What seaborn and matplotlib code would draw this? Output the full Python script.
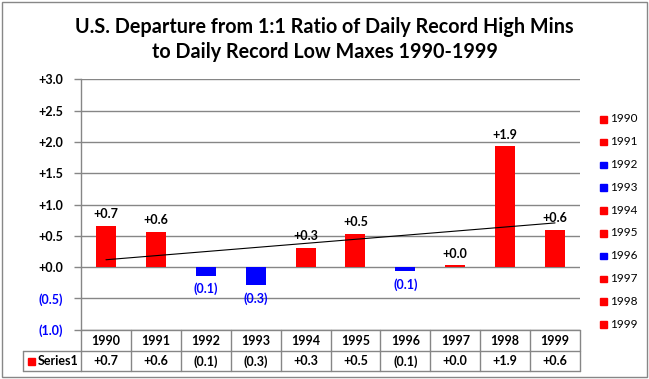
import numpy as np
import pandas as pd
import matplotlib
matplotlib.use("Agg")
import matplotlib.pyplot as plt
import matplotlib.transforms as mtransforms
from matplotlib.patches import Rectangle
import seaborn as sns

years = ["1990", "1991", "1992", "1993", "1994", "1995", "1996", "1997", "1998", "1999"]
values = [0.66, 0.56, -0.14, -0.29, 0.305, 0.53, -0.07, 0.03, 1.93, 0.60]
yticks = [-1.0, -0.5, 0.0, 0.5, 1.0, 1.5, 2.0, 2.5, 3.0]
title = "U.S. Departure from 1:1 Ratio of Daily Record High Mins\nto Daily Record Low Maxes 1990-1999"
series_name = "Series1"

RED = "#ff0000"
BLUE = "#0000ff"
GRID = "#868686"


def fmt(v):
    return f"+{abs(v):.1f}" if round(v, 1) >= 0 else f"({abs(v):.1f})"


sns.set_theme(style="white")
plt.rcParams["font.family"] = ["Lato", "DejaVu Sans"]

W, H = 649, 379
fig = plt.figure(figsize=(W / 100, H / 100), dpi=100)
fig.patch.set_facecolor("white")

x0, x1 = 81, 580
ytop, ybot = 79.3, 329.7
ax = fig.add_axes([x0 / W, 1 - ybot / H, (x1 - x0) / W, (ybot - ytop) / H])

colors = [RED if v >= 0 else BLUE for v in values]
df = pd.DataFrame({"year": years, "value": values})
sns.barplot(data=df, x="year", y="value", hue="year", palette=colors,
            width=0.4, legend=False, ax=ax, saturation=1, zorder=3, linewidth=0)

FS = 9
ax.set_xlim(-0.5, len(years) - 0.5)
ax.set_ylim(-1.0, 3.0)
ax.set_yticks(yticks)
ax.set_yticklabels([fmt(t) for t in yticks], fontweight="bold", fontsize=FS)
for lab, t in zip(ax.get_yticklabels(), yticks):
    lab.set_color(BLUE if t < 0 else "black")
ax.tick_params(axis="y", length=5, width=1, color=GRID, pad=8, direction="out", left=True)
ax.set_xticks([])
ax.set_xlabel("")
ax.set_ylabel("")
ax.grid(False)
for t in yticks:
    ax.axhline(t, color=GRID, lw=1, zorder=1)
for s in ["top", "right", "bottom"]:
    ax.spines[s].set_visible(False)
ax.spines["left"].set_color(GRID)
ax.spines["left"].set_linewidth(1)

# trendline (linear fit)
xs = np.arange(len(values))
m, b = np.polyfit(xs, values, 1)
ax.plot(xs, m * xs + b, color="black", lw=0.8, zorder=4)

# data labels
for i, v in enumerate(values):
    if round(v, 1) >= 0:
        ax.annotate(fmt(v), (i, max(v, 0)), xytext=(0, 4), textcoords="offset points",
                    ha="center", va="bottom", fontsize=FS, fontweight="bold", color="black", zorder=5)
    else:
        ax.annotate(fmt(v), (i, v), xytext=(0, -5), textcoords="offset points",
                    ha="center", va="top", fontsize=FS, fontweight="bold", color=BLUE, zorder=5)

# data table
tr = mtransforms.blended_transform_factory(ax.transData, fig.transFigure)
ftr = fig.transFigure
def fy(p):
    return 1 - p / H
r1, r2 = 350.7, 371.0
n = len(years)
ax.plot([-0.5, n - 0.5], [fy(ybot)] * 2, transform=tr, color=GRID, lw=1, clip_on=False)
ax.plot([-0.5, n - 0.5], [fy(r1)] * 2, transform=tr, color=GRID, lw=1, clip_on=False)
fig.add_artist(plt.Line2D([23.3 / W, x0 / W], [fy(r1)] * 2, transform=ftr, color=GRID, lw=1))
fig.add_artist(plt.Line2D([23.3 / W, x0 / W], [fy(r2)] * 2, transform=ftr, color=GRID, lw=1))
ax.plot([-0.5, n - 0.5], [fy(r2)] * 2, transform=tr, color=GRID, lw=1, clip_on=False)
fig.add_artist(plt.Line2D([23.3 / W] * 2, [fy(r1), fy(r2)], transform=ftr, color=GRID, lw=1))
for k in range(n + 1):
    ax.plot([k - 0.5] * 2, [fy(ybot), fy(r2)], transform=tr, color=GRID, lw=1, clip_on=False)
for i, (yr, v) in enumerate(zip(years, values)):
    ax.text(i, fy((ybot + r1) / 2 + 0.5), yr, transform=tr, ha="center", va="center",
            fontsize=FS, fontweight="bold", color="black")
    ax.text(i, fy((r1 + r2) / 2 + 0.5), fmt(v), transform=tr, ha="center", va="center",
            fontsize=FS, fontweight="bold", color="black")
fig.add_artist(Rectangle((28 / W, fy(364.5)), 7 / W, 7 / H, transform=ftr, color=RED))
fig.text(37.5 / W, fy((r1 + r2) / 2 + 0.5), series_name, ha="left", va="center",
         fontsize=FS, fontweight="bold", color="black")

# legend
for i, (yr, c) in enumerate(zip(years, colors)):
    yc = 119 + i * 22.8
    fig.add_artist(Rectangle((600 / W, fy(yc + 3.5)), 6.5 / W, 6.5 / H, transform=ftr, color=c))
    fig.text(610 / W, fy(yc), yr, ha="left", va="center", fontsize=8.5, color="black")

# title
fig.text(0.5, fy(27), title.split("\n")[0], ha="center", va="center", fontsize=14.2,
         fontweight="bold", color="black")
fig.text(0.5, fy(52), title.split("\n")[1], ha="center", va="center", fontsize=14.2,
         fontweight="bold", color="black")

# outer border
fig.add_artist(Rectangle((2 / W, 2 / H), (W - 4) / W, (H - 4) / H, transform=ftr,
                         fill=False, edgecolor="#878787", lw=1))

fig.savefig("out.png", dpi=100, facecolor="white")
